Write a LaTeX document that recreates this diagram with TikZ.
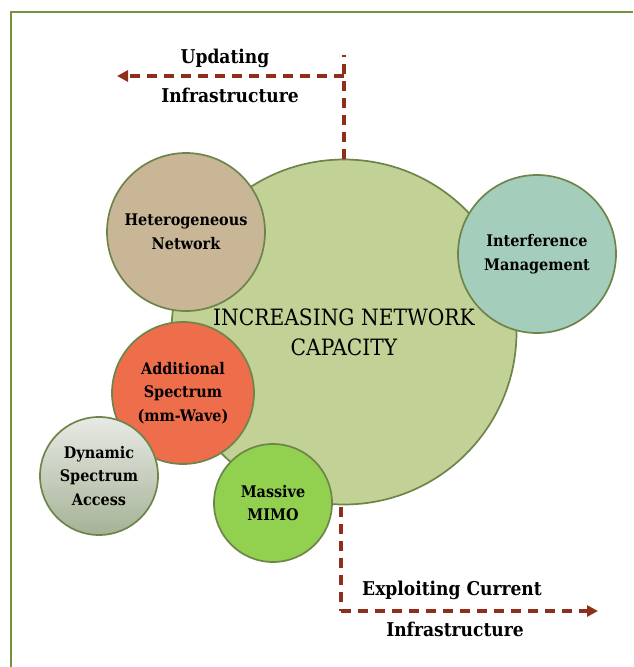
\documentclass[tikz,border=0pt]{standalone}
\usepackage{fontspec}
\setmainfont{DejaVu Serif Condensed}
\usetikzlibrary{arrows.meta}

\definecolor{frameolive}{HTML}{76923C}
\definecolor{ringline}{HTML}{6E8549}
\definecolor{bigfill}{HTML}{C2D297}
\definecolor{hetfill}{HTML}{C8B696}
\definecolor{intfill}{HTML}{A4CDBC}
\definecolor{addfill}{HTML}{EE6E4B}
\definecolor{dynTop}{HTML}{E8EAE5}
\definecolor{dynBottom}{HTML}{A5B296}
\definecolor{mimofill}{HTML}{92D050}
\definecolor{arrowred}{HTML}{8E2F1E}

\tikzset{
  bubble/.style={circle, draw=ringline, line width=1.7pt, inner sep=0pt,
    align=center, font=\fontsize{16}{23.5}\selectfont\bfseries},
  core/.style={bubble, font=\fontsize{22.5}{30}\selectfont},
  flow/.style={draw=arrowred, line width=3.3pt, dash pattern=on 10pt off 7pt},
  flowtip/.style={flow, -{Triangle[length=11pt,width=11pt]}},
  flowtext/.style={font=\fontsize{19}{22}\selectfont\bfseries, inner sep=0pt},
}

\begin{document}
\begin{tikzpicture}[x=1pt, y=-1pt]
  \useasboundingbox (0,0) rectangle (633,667);

  % page frame
  \draw[frameolive, line width=2pt] (11,667) -- (11,12) -- (633,12);

  % central capacity bubble and the techniques around it
  \node[core, fill=bigfill, minimum size=345pt] (big) at (344,332)
    {INCREASING NETWORK\\CAPACITY};
  \node[bubble, fill=hetfill, minimum size=158pt] (het) at (186,232)
    {Heterogeneous\\Network};
  \node[bubble, fill=intfill, minimum size=158pt] (int) at (537,254)
    {Interference\\Management};
  \node[bubble, fill=addfill, minimum size=142pt] (add) at (183,393)
    {Additional\\Spectrum\\(mm-Wave)};
  \node[bubble, top color=dynTop, bottom color=dynBottom, minimum size=118pt] (dyn) at (99,476)
    {Dynamic\\Spectrum\\Access};
  \node[bubble, fill=mimofill, minimum size=118pt] (mimo) at (273,503)
    {Massive\\MIMO};

  % upper direction: updating infrastructure
  \coordinate (upTop) at (344,55);
  \coordinate (upTurn) at (344,76);
  \coordinate (upEnd) at (117,76);
  \draw[flow] (big.north) -- (upTop);
  \draw[flowtip] (upTurn) -- (upEnd);
  \node[flowtext] (upA) at (225,58) {Updating};
  \node[flowtext] (upB) at (230,95) {Infrastructure};

  % lower direction: exploiting current infrastructure
  \coordinate (loTop) at (341,507);
  \coordinate (loTurn) at (341,611);
  \coordinate (loEnd) at (598,611);
  \draw[flow] (loTop) -- (loTurn);
  \draw[flowtip] (loTurn) -- (loEnd);
  \node[flowtext] (loA) at (452,590) {Exploiting Current};
  \node[flowtext] (loB) at (455,629) {Infrastructure};
\end{tikzpicture}
\end{document}
